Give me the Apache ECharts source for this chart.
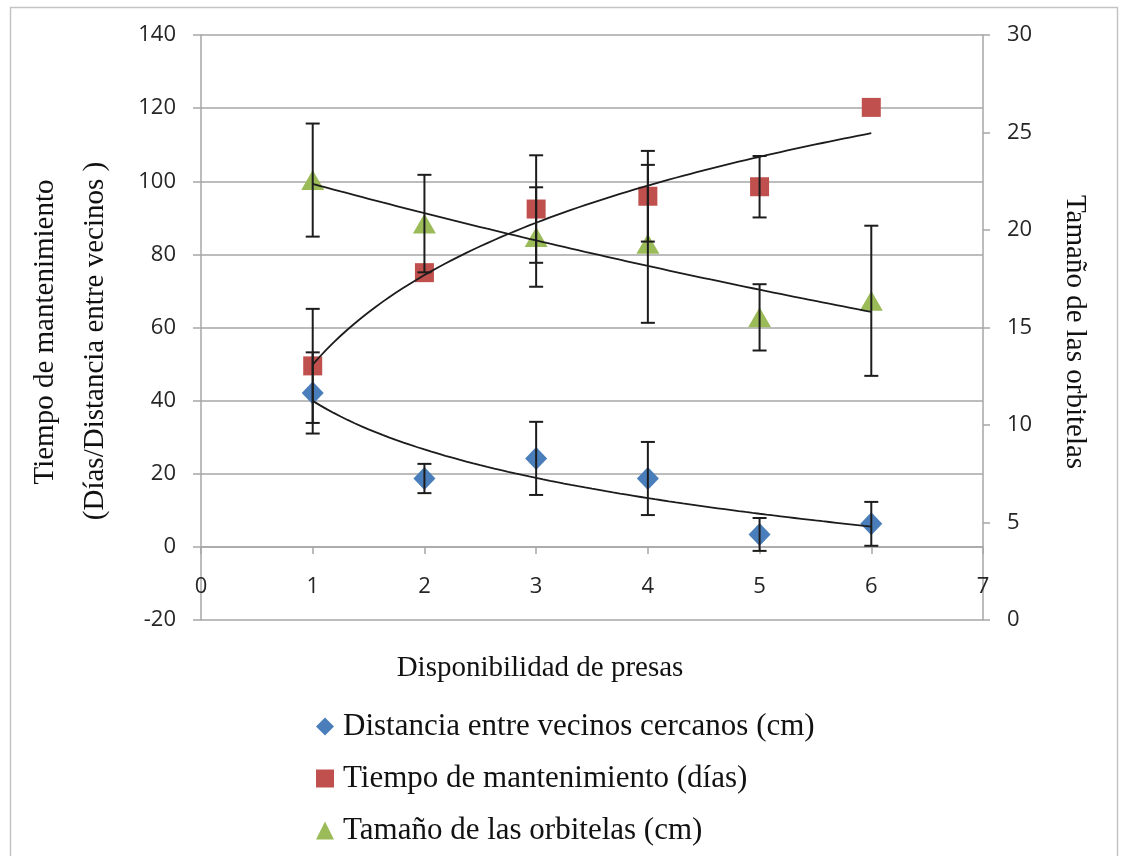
<!DOCTYPE html>
<html>
<head>
<meta charset="utf-8">
<script src="https://cdn.jsdelivr.net/npm/echarts@6/dist/echarts.min.js"></script>
<style>
  html, body { margin: 0; padding: 0; background: #ffffff; }
  #chart { width: 1126px; height: 856px; }
</style>
</head>
<body>
<div id="chart"></div>
<script>
// Prey availability levels (x)
const disponibilidad = [1, 2, 3, 4, 5, 6];

// Nearest-neighbour distance (cm), left axis
const distancia = [42.1, 18.7, 24.2, 18.7, 3.4, 6.3];
const distanciaErr = [11.1, 4.0, 10.0, 10.0, 4.5, 6.0];

// Web maintenance time (days), left axis
const tiempo = [49.5, 75.0, 92.4, 95.9, 98.5, 120.2];
const tiempoErr = [15.6, null, 14.7, 12.4, 8.4, null];

// Orb-web size (cm), right axis
const tamano = [22.56, 20.33, 19.64, 19.29, 15.52, 16.37];
const tamanoErr = [2.9, 2.5, 2.55, 4.05, 1.7, 3.85];

// Axis tick settings
const leftTicks = { min: -20, max: 140, interval: 20 };
const rightTicks = { min: 0, max: 30, interval: 5 };
const xTicks = { min: 0, max: 7, interval: 1 };

const serifFont = '"Liberation Serif", "Times New Roman", serif';
const sansFont = '"Open Sans", "Liberation Sans", sans-serif';

// Least-squares fits used for the trend lines
function logFit(xs, ys) {
  const lx = xs.map(Math.log);
  const n = xs.length;
  const mx = lx.reduce((s, v) => s + v, 0) / n;
  const my = ys.reduce((s, v) => s + v, 0) / n;
  let sxy = 0, sxx = 0;
  for (let i = 0; i < n; i++) { sxy += (lx[i] - mx) * (ys[i] - my); sxx += (lx[i] - mx) ** 2; }
  const b = sxy / sxx, a = my - b * mx;
  return x => a + b * Math.log(x);
}
function expFit(xs, ys) {
  const ly = ys.map(Math.log);
  const n = xs.length;
  const mx = xs.reduce((s, v) => s + v, 0) / n;
  const my = ly.reduce((s, v) => s + v, 0) / n;
  let sxy = 0, sxx = 0;
  for (let i = 0; i < n; i++) { sxy += (xs[i] - mx) * (ly[i] - my); sxx += (xs[i] - mx) ** 2; }
  const b = sxy / sxx, a = my - b * mx;
  return x => Math.exp(a + b * x);
}
function curve(fn, x0, x1) {
  const pts = [];
  const steps = 80;
  for (let i = 0; i <= steps; i++) {
    const x = x0 + (x1 - x0) * i / steps;
    pts.push([x, fn(x)]);
  }
  return pts;
}
const first = disponibilidad[0], last = disponibilidad[disponibilidad.length - 1];

function pairs(ys) { return disponibilidad.map((x, i) => [x, ys[i]]); }
function errRows(ys, errs) {
  const rows = [];
  disponibilidad.forEach((x, i) => {
    if (errs[i] != null) rows.push([x, ys[i] - errs[i], ys[i] + errs[i]]);
  });
  return rows;
}

function renderErrorBar(params, api) {
  const x = api.value(0);
  const top = api.coord([x, api.value(2)]);
  const bot = api.coord([x, api.value(1)]);
  const half = 7;
  const style = { stroke: '#1c1c1c', lineWidth: 2 };
  return {
    type: 'group',
    children: [
      { type: 'line', shape: { x1: top[0], y1: top[1], x2: bot[0], y2: bot[1] }, style: style },
      { type: 'line', shape: { x1: top[0] - half, y1: top[1], x2: top[0] + half, y2: top[1] }, style: style },
      { type: 'line', shape: { x1: bot[0] - half, y1: bot[1], x2: bot[0] + half, y2: bot[1] }, style: style }
    ]
  };
}

const gridColor = '#a6a6a6';
const tickLabel = { fontFamily: sansFont, fontSize: 22, color: '#262626' };

const chart = echarts.init(document.getElementById('chart'), null, { renderer: 'canvas' });

chart.setOption({
  animation: false,
  backgroundColor: '#ffffff',
  grid: { left: 201, right: 143, top: 35, bottom: 236, containLabel: false },
  xAxis: {
    type: 'value',
    min: xTicks.min, max: xTicks.max, interval: xTicks.interval,
    axisLine: { show: true, onZero: true, onZeroAxisIndex: 0, lineStyle: { color: gridColor, width: 1.5 } },
    axisTick: { show: true, length: 7, lineStyle: { color: gridColor, width: 1.5 } },
    // labels sit just under the zero line, well above the plot's bottom edge
    axisLabel: Object.assign({ margin: -44 }, tickLabel),
    splitLine: { show: false }
  },
  yAxis: [
    {
      type: 'value', position: 'left',
      min: leftTicks.min, max: leftTicks.max, interval: leftTicks.interval,
      axisLine: { show: true, lineStyle: { color: gridColor, width: 1.5 } },
      axisTick: { show: true, length: 8, lineStyle: { color: gridColor, width: 1.5 } },
      axisLabel: Object.assign({ margin: 25 }, tickLabel),
      splitLine: { show: true, lineStyle: { color: gridColor, width: 1.5 } }
    },
    {
      type: 'value', position: 'right',
      min: rightTicks.min, max: rightTicks.max, interval: rightTicks.interval,
      axisLine: { show: true, lineStyle: { color: gridColor, width: 1.5 } },
      axisTick: { show: true, length: 7, lineStyle: { color: gridColor, width: 1.5 } },
      axisLabel: Object.assign({ margin: 24 }, tickLabel),
      splitLine: { show: false }
    }
  ],
  legend: {
    orient: 'vertical',
    left: 311, top: 706,
    itemWidth: 18, itemHeight: 18,
    itemGap: 21,
    data: ['Distancia entre vecinos cercanos (cm)', 'Tiempo de mantenimiento (días)', 'Tamaño de las orbitelas (cm)'],
    itemStyle: { opacity: 1 },
    textStyle: { fontFamily: serifFont, fontSize: 31, color: '#111111', padding: [0, 0, 0, 4] }
  },
  graphic: [
    {
      type: 'rect', silent: true, z: -1,
      shape: { x: 10.5, y: 7.5, width: 1107, height: 870 },
      style: { fill: null, stroke: '#c4c4c4', lineWidth: 1.5 }
    },
    {
      type: 'text', x: 45, y: 332, rotation: Math.PI / 2,
      style: { text: 'Tiempo de mantenimiento', font: '29px ' + serifFont, fill: '#111', align: 'center', verticalAlign: 'middle' }
    },
    {
      type: 'text', x: 95, y: 341, rotation: Math.PI / 2,
      style: { text: '(Días/Distancia entre vecinos )', font: '29px ' + serifFont, fill: '#111', align: 'center', verticalAlign: 'middle' }
    },
    {
      type: 'text', x: 1075, y: 332, rotation: -Math.PI / 2,
      style: { text: 'Tamaño de las orbitelas', font: '29px ' + serifFont, fill: '#111', align: 'center', verticalAlign: 'middle' }
    },
    {
      type: 'text', x: 540, y: 668,
      style: { text: 'Disponibilidad de presas', font: '29px ' + serifFont, fill: '#111', align: 'center', verticalAlign: 'middle' }
    }
  ],
  series: [
    {
      name: 'Distancia entre vecinos cercanos (cm)', type: 'scatter', yAxisIndex: 0,
      symbol: 'diamond', symbolSize: [22, 23], z: 2,
      itemStyle: { color: '#4a7ebb', opacity: 1 },
      data: pairs(distancia)
    },
    {
      name: 'Tiempo de mantenimiento (días)', type: 'scatter', yAxisIndex: 0,
      symbol: 'rect', symbolSize: 19, z: 2,
      itemStyle: { color: '#c0504d', opacity: 1 },
      data: pairs(tiempo)
    },
    {
      name: 'Tamaño de las orbitelas (cm)', type: 'scatter', yAxisIndex: 1,
      symbol: 'triangle', symbolSize: [23, 20], z: 2,
      itemStyle: { color: '#9bbb59', opacity: 1 },
      data: pairs(tamano)
    },
    {
      name: 'distanciaTrend', type: 'line', yAxisIndex: 0, showSymbol: false, silent: true, z: 4,
      lineStyle: { color: '#1c1c1c', width: 1.8 },
      data: curve(logFit(disponibilidad, distancia), first, last)
    },
    {
      name: 'tiempoTrend', type: 'line', yAxisIndex: 0, showSymbol: false, silent: true, z: 4,
      lineStyle: { color: '#1c1c1c', width: 1.8 },
      data: curve(logFit(disponibilidad, tiempo), first, last)
    },
    {
      name: 'tamanoTrend', type: 'line', yAxisIndex: 1, showSymbol: false, silent: true, z: 4,
      lineStyle: { color: '#1c1c1c', width: 1.8 },
      data: curve(expFit(disponibilidad, tamano), first, last)
    },
    {
      name: 'distanciaErr', type: 'custom', yAxisIndex: 0, z: 5, silent: true,
      renderItem: renderErrorBar, encode: { x: 0, y: [1, 2] },
      data: errRows(distancia, distanciaErr)
    },
    {
      name: 'tiempoErr', type: 'custom', yAxisIndex: 0, z: 5, silent: true,
      renderItem: renderErrorBar, encode: { x: 0, y: [1, 2] },
      data: errRows(tiempo, tiempoErr)
    },
    {
      name: 'tamanoErr', type: 'custom', yAxisIndex: 1, z: 5, silent: true,
      renderItem: renderErrorBar, encode: { x: 0, y: [1, 2] },
      data: errRows(tamano, tamanoErr)
    }
  ]
});
</script>
</body>
</html>
